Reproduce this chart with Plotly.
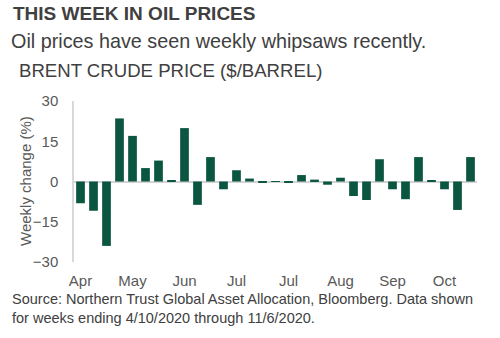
import plotly.graph_objects as go

weeks = ["4/10", "4/17", "4/24", "5/1", "5/8", "5/15", "5/22", "5/29", "6/5", "6/12",
         "6/19", "6/26", "7/3", "7/10", "7/17", "7/24", "7/31", "8/7", "8/14", "8/21",
         "8/28", "9/4", "9/11", "9/18", "9/25", "10/2", "10/9", "10/16", "10/23", "10/30", "11/6"]
weekly_change = [-8.1, -10.9, -24.0, 23.5, 17.0, 5.0, 7.8, 0.2, 19.9, -8.7,
                 9.1, -2.9, 4.2, 1.1, -0.3, 0.1, -0.3, 2.4, 0.7, -1.2,
                 1.4, -5.4, -6.9, 8.3, -2.9, -6.6, 9.1, 0.2, -2.9, -10.6, 9.1]
tick_idx = [0, 4, 8, 12, 16, 20, 24, 28]
tick_labels = ["Apr", "May", "Jun", "Jul", "Jul", "Aug", "Sep", "Oct"]
y_ticks = [-30, -15, 0, 15, 30]

W, H = 500, 338
L, R, T, B = 74, 23, 101, 76
pw = W - L - R
ph = H - T - B

def px(x):
    return (x - L) / pw

def py(y):
    return (H - B - y) / ph

fig = go.Figure()
fig.add_trace(go.Bar(
    x=list(range(len(weeks))), y=weekly_change,
    marker=dict(color="#0b5641", line=dict(width=0)),
    hovertext=weeks,
))

font = "Liberation Sans, Arial, sans-serif"
fig.update_layout(
    width=W, height=H,
    margin=dict(l=L, r=R, t=T, b=B, pad=0),
    paper_bgcolor="white", plot_bgcolor="white",
    bargap=0.33, showlegend=False,
    font=dict(family=font, color="#595959", size=15),
    xaxis=dict(
        range=[-0.5, len(weeks) - 0.5],
        tickmode="array", tickvals=tick_idx, ticktext=tick_labels,
        showgrid=False, zeroline=False, showline=False,
        ticks="outside", ticklen=5, tickcolor="rgba(0,0,0,0)",
        tickfont=dict(size=15, color="#595959"),
    ),
    yaxis=dict(
        range=[-30, 30], tickmode="array", tickvals=y_ticks,
        showgrid=False, zeroline=True, zerolinecolor="#d4d4d4", zerolinewidth=1.5,
        showline=True, linecolor="#d9d9d9", linewidth=1.5,
        ticks="outside", ticklen=11, tickcolor="rgba(0,0,0,0)",
        tickfont=dict(size=15, color="#595959"),
    ),
    annotations=[
        dict(text="<b>THIS WEEK IN OIL PRICES</b>", x=px(11), y=py(13), xref="paper", yref="paper",
             xanchor="left", yanchor="middle", showarrow=False,
             font=dict(size=19, color="#404040", family=font)),
        dict(text="Oil prices have seen weekly whipsaws recently.", x=px(9), y=py(41), xref="paper", yref="paper",
             xanchor="left", yanchor="middle", showarrow=False,
             font=dict(size=19.8, color="#404040", family=font)),
        dict(text="BRENT CRUDE PRICE ($/BARREL)", x=px(17), y=py(70), xref="paper", yref="paper",
             xanchor="left", yanchor="middle", showarrow=False,
             font=dict(size=18.6, color="#404040", family=font)),
        dict(text="Weekly change (%)", x=px(25), y=py(181), xref="paper", yref="paper",
             xanchor="center", yanchor="middle", showarrow=False, textangle=-90,
             font=dict(size=15, color="#595959", family=font)),
        dict(text="Source: Northern Trust Global Asset Allocation, Bloomberg. Data shown<br>for weeks ending 4/10/2020 through 11/6/2020.",
             x=px(10), y=py(308), xref="paper", yref="paper", align="left",
             xanchor="left", yanchor="middle", showarrow=False,
             font=dict(size=14.5, color="#404040", family=font)),
    ],
)

fig.write_html("out.html")
